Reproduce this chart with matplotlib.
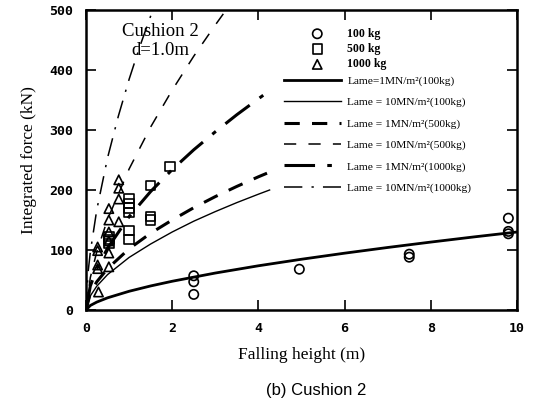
import numpy as np
import matplotlib
matplotlib.use("Agg")
import matplotlib.pyplot as plt

# measured points (falling height m, integrated force kN)
h_100 = [2.5, 2.5, 2.5, 4.95, 7.5, 7.5, 9.8, 9.8, 9.8]
f_100 = [57, 47, 26, 68, 93, 88, 153, 131, 127]

h_500 = [0.53, 0.53, 0.53, 1.0, 1.0, 1.0, 1.0, 1.0, 1.0, 1.5, 1.5, 1.5, 1.95]
f_500 = [122, 117, 111, 186, 178, 170, 163, 133, 117, 208, 156, 150, 239]

h_1000 = [0.27, 0.27, 0.27, 0.27, 0.29, 0.53, 0.53, 0.53, 0.53, 0.53, 0.53,
          0.76, 0.76, 0.76, 0.76]
f_1000 = [105, 99, 75, 69, 30, 169, 150, 130, 115, 95, 72,
          217, 203, 185, 147]

# Lame model curves
h_l1_100 = [0, 0.1, 0.25, 0.5, 1, 1.5, 2, 3, 4, 5, 6, 7, 8, 9, 10]
f_l1_100 = [0, 7.5, 13.2, 20.3, 31.2, 40.1, 47.9, 61.6, 73.7, 84.6, 94.7,
            104.2, 113.2, 121.8, 130]

h_l10_100 = [0, 0.1, 0.25, 0.5, 1, 1.5, 2, 2.5, 3, 3.5, 4, 4.26]
f_l10_100 = [0, 23.6, 39.7, 59, 87.6, 110, 130, 148, 164, 179, 193, 200]

h_l1_500 = [0, 0.1, 0.25, 0.5, 1, 1.5, 2, 2.5, 3, 3.5, 4, 4.2]
f_l1_500 = [0, 28.1, 47, 69, 102, 128, 150, 170.5, 189, 206, 222, 228]

h_l10_500 = [0, 0.1, 0.25, 0.5, 1, 1.5, 2, 2.5, 3, 3.25]
f_l10_500 = [0, 54, 97, 151, 235, 305, 366.5, 423, 475, 500]

h_l1_1000 = [0, 0.1, 0.25, 0.5, 1, 1.5, 2, 2.5, 3, 3.5, 4, 4.19]
f_l1_1000 = [0, 40, 68.6, 103, 155.5, 197.5, 234, 267, 297, 325.5, 352, 362]

h_l10_1000 = [0, 0.05, 0.1, 0.25, 0.5, 0.75, 1, 1.25, 1.55]
f_l10_1000 = [0, 64, 96.5, 167, 253.6, 323, 384.5, 439.5, 500]

line_labels = ["Lame=1MN/m²(100kg)", "Lame = 10MN/m²(100kg)",
               "Lame = 1MN/m²(500kg)", "Lame = 10MN/m²(500kg)",
               "Lame = 1MN/m²(1000kg)", "Lame = 10MN/m²(1000kg)"]
mass_labels = ["100 kg", "500 kg", "1000 kg"]

serif = "Liberation Serif"

fig = plt.figure(figsize=(5.36, 4.04), dpi=100)
ax = fig.add_axes([86 / 536, 1 - 310 / 404, 431 / 536, 300 / 404])

ls_thick_dash = (0, (5, 4))
ls_thin_dash = (0, (8, 8))
ls_thick_dd = (0, (10, 4, 1.5, 4))
ls_thin_dd = (0, (12, 6, 1.5, 6))

l1, = ax.plot(h_l1_100, f_l1_100, color="k", lw=2.0)
l2, = ax.plot(h_l10_100, f_l10_100, color="k", lw=1.0)
l3, = ax.plot(h_l1_500, f_l1_500, color="k", lw=2.2, linestyle=ls_thick_dash)
l4, = ax.plot(h_l10_500, f_l10_500, color="k", lw=1.1, linestyle=ls_thin_dash)
l5, = ax.plot(h_l1_1000, f_l1_1000, color="k", lw=2.2, linestyle=ls_thick_dd)
l6, = ax.plot(h_l10_1000, f_l10_1000, color="k", lw=1.1, linestyle=ls_thin_dd)

mk = dict(facecolor="none", edgecolor="k", linewidths=1.2, s=45, zorder=3)
s1 = ax.scatter(h_100, f_100, marker="o", **mk)
s2 = ax.scatter(h_500, f_500, marker="s", **mk)
s3 = ax.scatter(h_1000, f_1000, marker="^", **mk)

ax.set_xlim(0, 10)
ax.set_ylim(0, 500)
ax.set_xticks([0, 2, 4, 6, 8, 10])
ax.set_yticks([0, 100, 200, 300, 400, 500])
ax.tick_params(direction="in", length=7, width=1.2, top=True, right=True, pad=9)
for lab in ax.get_xticklabels() + ax.get_yticklabels():
    lab.set_fontfamily("DejaVu Sans Mono")
    lab.set_fontweight("bold")
    lab.set_fontsize(9.5)
for sp in ax.spines.values():
    sp.set_linewidth(1.8)

ax.set_xlabel("Falling height (m)", fontfamily=serif, fontsize=12.5, labelpad=8)
ax.set_ylabel("Integrated force (kN)", fontfamily=serif, fontsize=12.5, labelpad=9)

ax.text(0.172, 0.897, "Cushion 2\nd=1.0m", transform=ax.transAxes, ha="center",
        va="center", fontfamily=serif, fontsize=13.5, linespacing=1.15)

leg1 = ax.legend([s1, s2, s3], mass_labels, loc="upper left",
                 bbox_to_anchor=(0.49, 0.968), frameon=False,
                 prop={"family": serif, "size": 8.5, "weight": "bold"},
                 handletextpad=1.5, labelspacing=0.28, borderpad=0.2, handlelength=2)
ax.add_artist(leg1)
ax.legend([l1, l2, l3, l4, l5, l6], line_labels,
          loc="upper left", bbox_to_anchor=(0.44, 0.807), frameon=False,
          prop={"family": serif, "size": 8.2},
          handlelength=5.0, handletextpad=0.6, labelspacing=0.98, borderpad=0.2)

fig.text(316 / 536, 1 - 390 / 404, "(b) Cushion 2", ha="center", va="center",
         fontfamily="Liberation Sans", fontsize=12)

fig.savefig("out.png", dpi=100)
